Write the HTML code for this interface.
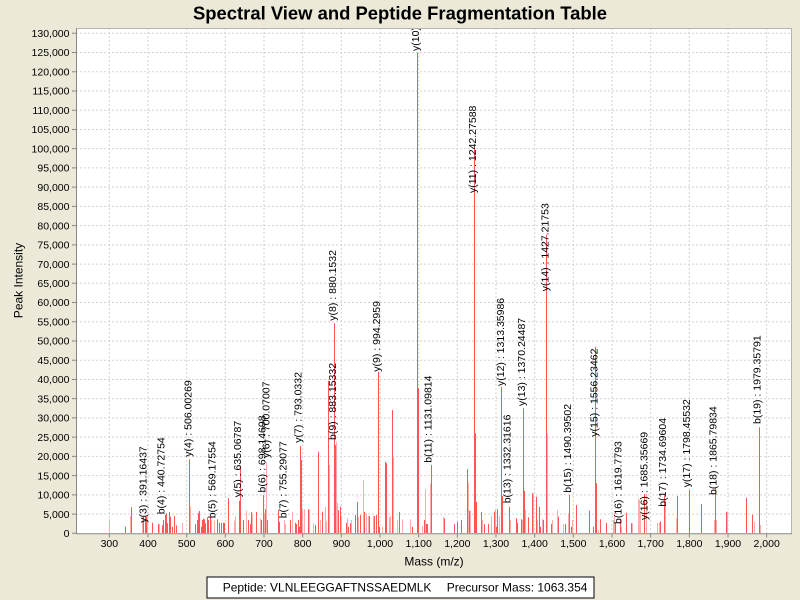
<!DOCTYPE html>
<html><head><meta charset="utf-8"><style>
html,body{margin:0;padding:0;background:#ECE9D8;}
svg{display:block;font-family:"Liberation Sans",Arial,sans-serif;}
</style></head><body>
<svg width="800" height="600" viewBox="0 0 800 600" xmlns="http://www.w3.org/2000/svg">
<rect width="800" height="600" fill="#ECE9D8"/>
<text x="400" y="19.5" text-anchor="middle" font-size="18" font-weight="bold" textLength="414" lengthAdjust="spacingAndGlyphs" fill="#000">Spectral View and Peptide Fragmentation Table</text>
<defs><clipPath id="pc"><rect x="76" y="28" width="716" height="506"/></clipPath></defs>
<rect x="76" y="28" width="716" height="505.3" fill="#fff"/>
<g stroke="#d2d2d2" stroke-width="1" stroke-dasharray="2,2" fill="none">
<path d="M76 514.07H792M76 494.84H792M76 475.61H792M76 456.38H792M76 437.15H792M76 417.92H792M76 398.68H792M76 379.45H792M76 360.22H792M76 340.99H792M76 321.76H792M76 302.53H792M76 283.3H792M76 264.07H792M76 244.84H792M76 225.61H792M76 206.38H792M76 187.15H792M76 167.92H792M76 148.68H792M76 129.45H792M76 110.22H792M76 90.99H792M76 71.76H792M76 52.53H792M76 33.3H792"/>
<path d="M109.33 28V533M148 28V533M186.67 28V533M225.33 28V533M264 28V533M302.67 28V533M341.33 28V533M380 28V533M418.67 28V533M457.33 28V533M496 28V533M534.67 28V533M573.33 28V533M612 28V533M650.67 28V533M689.33 28V533M728 28V533M766.67 28V533"/>
</g>
<g fill="none" stroke-width="1">
<path stroke="#ffacac" d="M109.5 519V533M130.5 516V533M142.5 517.3V533M147.5 516V533M159.5 524V533M182.5 522.7V533M190.5 506.7V533M211.5 520V533M214.5 520.7V533M234.5 520.7V533M235.5 516V533M246.5 510.7V533M252.5 515V533M260.5 518.3V533M264.5 513.3V533M266.5 461.7V533M284.5 520V533M285.5 524V533M292.5 512V533M302.5 509.3V533M304.5 509.3V533M309.5 509.3V533M313.5 523.3V533M320.5 520V533M325.5 506.7V533M326.5 521.3V533M329.5 465V533M336.5 441.7V533M337.5 502.7V533M341.5 516V533M347.5 518.3V533M351.5 520V533M358.5 516.7V533M363.5 480V533M366.5 513.3V533M368.5 516V533M373.5 516V533M382.5 526.7V533M389.5 517.3V533M390.5 516V533M393.5 457.3V533M397.5 520V533M402.5 519.3V533M410.5 519.3V533M422.5 526V533M425.5 489.3V533M430.5 483.3V533M443.5 517.3V533M468.5 482.7V533M470.5 510.7V533M482.5 520V533M491.5 516V533M495.5 509.3V533M499.5 516V533M510.5 520V533M522.5 520V533M525.5 510V533M533.5 493.3V533M537.5 520V533M542.5 518.7V533M547.5 433.3V533M552.5 520V533M557.5 510V533M563.5 524V533M568.5 513.3V533M572.5 520V533M598.5 530V533M613.5 520V533M614.5 513.3V533M621.5 526.7V533M632.5 523.3V533M638.5 498.3V533M639.5 500V533M640.5 513.3V533M646.5 494V533M657.5 522.7V533M659.5 522.7V533M665.5 500V533M676.5 518.3V533M714.5 520V533M716.5 520V533M727.5 511.7V533M754.5 521.7V533M760.5 525V533"/>
<path stroke="#ff5555" d="M125.5 526.7V533M131.5 507.3V533M143.5 516.7V533M145.5 516V533M146.5 516.7V533M152.5 522.7V533M158.5 524V533M162.5 525.3V533M163.5 520V533M165.5 515V533M166.5 513.3V533M167.5 523.3V533M169.5 512V533M170.5 516.7V533M172.5 526.7V533M174.5 516V533M176.5 525.3V533M189.5 459.3V533M195.5 524V533M197.5 520V533M198.5 513.3V533M199.5 511V533M201.5 526.7V533M202.5 520V533M203.5 518.7V533M204.5 519.3V533M205.5 523.3V533M207.5 517.3V533M208.5 520V533M210.5 516.7V533M217.5 519.3V533M219.5 522.7V533M221.5 522.7V533M223.5 522.7V533M224.5 522.7V533M228.5 498.3V533M239.5 500.7V533M240.5 466V533M243.5 520V533M248.5 520V533M250.5 524V533M251.5 512V533M256.5 512V533M261.5 520V533M263.5 495V533M265.5 509.3V533M267.5 520V533M278.5 510V533M279.5 521.7V533M290.5 520V533M295.5 522.7V533M296.5 524V533M298.5 520V533M299.5 526.7V533M300.5 446V533M301.5 460V533M308.5 509.3V533M315.5 525V533M318.5 451.7V533M322.5 511.7V533M328.5 380.7V533M334.5 323.3V533M335.5 445V533M338.5 510V533M340.5 506.7V533M346.5 522.7V533M348.5 526.7V533M350.5 523.3V533M355.5 515V533M357.5 501.7V533M360.5 515V533M364.5 512V533M369.5 516V533M374.5 516V533M376.5 515V533M378.5 371.7V533M379.5 526.7V533M385.5 461.7V533M386.5 463.3V533M392.5 410V533M399.5 512V533M412.5 526.7V533M417.5 53V533M418.5 388.3V533M424.5 520V533M426.5 524V533M427.5 524V533M431.5 465V533M444.5 518.3V533M454.5 524V533M457.5 521.7V533M461.5 520V533M467.5 469.3V533M469.5 510.7V533M474.5 148V533M475.5 433.3V533M476.5 501.7V533M481.5 512V533M484.5 524V533M488.5 524V533M494.5 511.7V533M496.5 526.7V533M497.5 509.3V533M501.5 386.7V533M502.5 496V533M509.5 506.7V533M516.5 518.3V533M517.5 522.7V533M521.5 519.3V533M523.5 408.3V533M524.5 490.7V533M528.5 517.3V533M532.5 493.3V533M536.5 496.7V533M539.5 506.7V533M540.5 526.7V533M543.5 520V533M546.5 234.7V533M551.5 524V533M558.5 516.7V533M565.5 524V533M569.5 494.7V533M571.5 526.7V533M576.5 505V533M589.5 510.7V533M593.5 526.7V533M595.5 346.7V533M596.5 483.3V533M600.5 519.3V533M606.5 522.7V533M615.5 522.7V533M620.5 520V533M626.5 512.7V533M631.5 523.3V533M644.5 494V533M660.5 521.3V533M664.5 495.3V533M677.5 496V533M689.5 490V533M701.5 504V533M715.5 487.3V533M726.5 511.7V533M746.5 497.7V533M752.5 514.7V533M759.5 427.3V533"/>
</g>
<g clip-path="url(#pc)" font-size="10.5" fill="#000">
<text transform="translate(146.7,522.7) rotate(-90)">y(3) : 391.16437</text>
<text transform="translate(164.7,514.3) rotate(-90)">b(4) : 440.72754</text>
<text transform="translate(191.7,456.7) rotate(-90)">y(4) : 506.00269</text>
<text transform="translate(215.3,518.3) rotate(-90)">b(5) : 569.17554</text>
<text transform="translate(241,497.3) rotate(-90)">y(5) : 635.06787</text>
<text transform="translate(265.5,492.5) rotate(-90)">b(6) : 698.14698</text>
<text transform="translate(269.5,458) rotate(-90)">y(6) : 700.07007</text>
<text transform="translate(286.7,518.3) rotate(-90)">b(7) : 755.29077</text>
<text transform="translate(301.7,442.7) rotate(-90)">y(7) : 793.0332</text>
<text transform="translate(336,320.7) rotate(-90)">y(8) : 880.1532</text>
<text transform="translate(336,440) rotate(-90)">b(9) : 883.15332</text>
<text transform="translate(380,371.7) rotate(-90)">y(9) : 994.2959</text>
<text transform="translate(419,51) rotate(-90)">y(10) : 1097.32451</text>
<text transform="translate(431.7,462.7) rotate(-90)">b(11) : 1131.09814</text>
<text transform="translate(476,193) rotate(-90)">y(11) : 1242.27588</text>
<text transform="translate(504,386) rotate(-90)">y(12) : 1313.35986</text>
<text transform="translate(510.3,503.3) rotate(-90)">b(13) : 1332.31616</text>
<text transform="translate(525,406) rotate(-90)">y(13) : 1370.24487</text>
<text transform="translate(548.3,291.3) rotate(-90)">y(14) : 1427.21753</text>
<text transform="translate(571,492.7) rotate(-90)">b(15) : 1490.39502</text>
<text transform="translate(597.7,436.7) rotate(-90)">y(15) : 1556.23462</text>
<text transform="translate(621.7,524) rotate(-90)">b(16) : 1619.7793</text>
<text transform="translate(647.3,520) rotate(-90)">y(16) : 1685.35669</text>
<text transform="translate(666,506.7) rotate(-90)">b(17) : 1734.69604</text>
<text transform="translate(690,487.3) rotate(-90)">y(17) : 1798.45532</text>
<text transform="translate(716.7,495) rotate(-90)">b(18) : 1865.79834</text>
<text transform="translate(760.7,424) rotate(-90)">b(19) : 1979.35791</text>
</g>
<path d="M76 28.5H791.5V533.3" fill="none" stroke="#b4b4b4" stroke-width="1"/>
<path d="M76.5 28V533.8M76 533.8H792" fill="none" stroke="#888" stroke-width="1"/>
<g stroke="#888" stroke-width="1">
<path d="M72 533.3H76M72 514.07H76M72 494.84H76M72 475.61H76M72 456.38H76M72 437.15H76M72 417.92H76M72 398.68H76M72 379.45H76M72 360.22H76M72 340.99H76M72 321.76H76M72 302.53H76M72 283.3H76M72 264.07H76M72 244.84H76M72 225.61H76M72 206.38H76M72 187.15H76M72 167.92H76M72 148.68H76M72 129.45H76M72 110.22H76M72 90.99H76M72 71.76H76M72 52.53H76M72 33.3H76"/>
<path d="M109.33 534V537.5M148 534V537.5M186.67 534V537.5M225.33 534V537.5M264 534V537.5M302.67 534V537.5M341.33 534V537.5M380 534V537.5M418.67 534V537.5M457.33 534V537.5M496 534V537.5M534.67 534V537.5M573.33 534V537.5M612 534V537.5M650.67 534V537.5M689.33 534V537.5M728 534V537.5M766.67 534V537.5"/>
</g>
<g font-size="10.5" fill="#000" text-anchor="end">
<text x="69.5" y="537">0</text>
<text x="69.5" y="517.8">5,000</text>
<text x="69.5" y="498.5">10,000</text>
<text x="69.5" y="479.3">15,000</text>
<text x="69.5" y="460.1">20,000</text>
<text x="69.5" y="440.9">25,000</text>
<text x="69.5" y="421.6">30,000</text>
<text x="69.5" y="402.4">35,000</text>
<text x="69.5" y="383.2">40,000</text>
<text x="69.5" y="363.9">45,000</text>
<text x="69.5" y="344.7">50,000</text>
<text x="69.5" y="325.5">55,000</text>
<text x="69.5" y="306.2">60,000</text>
<text x="69.5" y="287">65,000</text>
<text x="69.5" y="267.8">70,000</text>
<text x="69.5" y="248.5">75,000</text>
<text x="69.5" y="229.3">80,000</text>
<text x="69.5" y="210.1">85,000</text>
<text x="69.5" y="190.9">90,000</text>
<text x="69.5" y="171.6">95,000</text>
<text x="69.5" y="152.4">100,000</text>
<text x="69.5" y="133.2">105,000</text>
<text x="69.5" y="113.9">110,000</text>
<text x="69.5" y="94.7">115,000</text>
<text x="69.5" y="75.5">120,000</text>
<text x="69.5" y="56.2">125,000</text>
<text x="69.5" y="37">130,000</text>
</g>
<g font-size="10.5" fill="#000" text-anchor="middle">
<text x="109.33" y="547">300</text>
<text x="148" y="547">400</text>
<text x="186.67" y="547">500</text>
<text x="225.33" y="547">600</text>
<text x="264" y="547">700</text>
<text x="302.67" y="547">800</text>
<text x="341.33" y="547">900</text>
<text x="380" y="547">1,000</text>
<text x="418.67" y="547">1,100</text>
<text x="457.33" y="547">1,200</text>
<text x="496" y="547">1,300</text>
<text x="534.67" y="547">1,400</text>
<text x="573.33" y="547">1,500</text>
<text x="612" y="547">1,600</text>
<text x="650.67" y="547">1,700</text>
<text x="689.33" y="547">1,800</text>
<text x="728" y="547">1,900</text>
<text x="766.67" y="547">2,000</text>
</g>
<text x="434" y="565.3" font-size="12" text-anchor="middle" fill="#000">Mass (m/z)</text>
<text transform="translate(22.7,280.5) rotate(-90)" font-size="12" text-anchor="middle" fill="#000">Peak Intensity</text>
<rect x="207" y="577" width="387" height="21" fill="#fff" stroke="#000" stroke-width="1"/>
<text x="222.7" y="591.3" font-size="12" fill="#000">Peptide: VLNLEEGGAFTNSSAEDMLK</text>
<text x="446.7" y="591.3" font-size="12" fill="#000">Precursor Mass: 1063.354</text>
</svg>
</body></html>
